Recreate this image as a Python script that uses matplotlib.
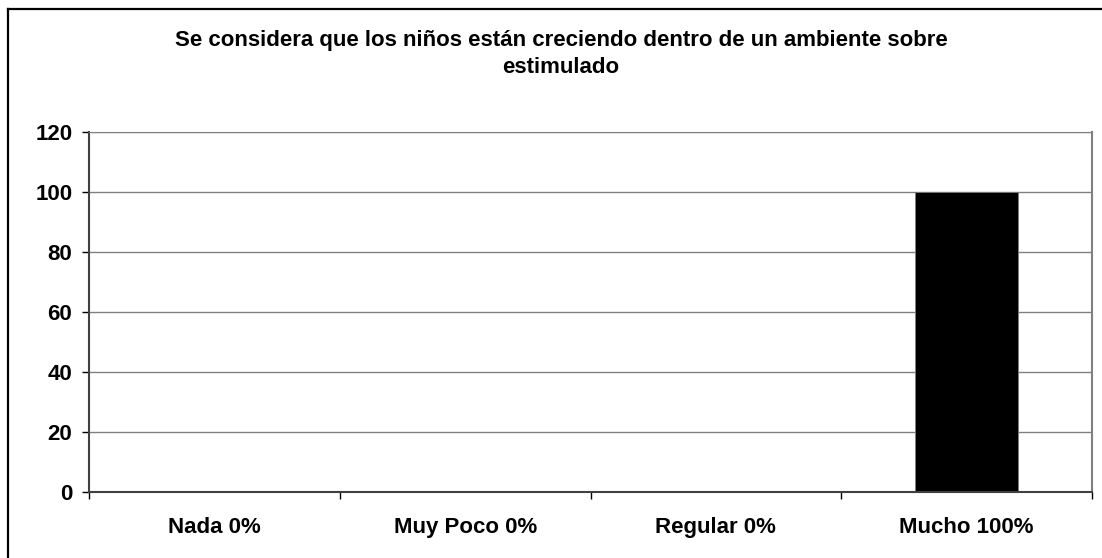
import matplotlib.pyplot as plt
from matplotlib.lines import Line2D
from matplotlib.ticker import FixedLocator

plt.rcParams['font.family'] = ['Liberation Sans', 'DejaVu Sans']
plt.rcParams['font.weight'] = 'bold'

# Survey answers and their share of responses
categories = ['Nada 0%', 'Muy Poco 0%', 'Regular 0%', 'Mucho 100%']
values = [0, 0, 0, 100]
y_ticks = [0, 20, 40, 60, 80, 100, 120]
title = 'Se considera que los niños están creciendo dentro de un ambiente sobre\nestimulado'

W, H = 1102, 558
fig = plt.figure(figsize=(W / 100, H / 100), dpi=100)

# plot area placed in pixel terms
left, right, top, bottom = 89, 1092, 132, 492
ax = fig.add_axes([left / W, (H - bottom) / H, (right - left) / W, (bottom - top) / H])

x = list(range(len(categories)))
ax.bar(x, values, width=0.41, color='black', edgecolor='#808080', linewidth=0.6, zorder=3)

ax.set_xlim(-0.5, len(categories) - 0.5)
ax.set_ylim(0, 120)
ax.set_yticks(y_ticks)
ax.yaxis.grid(True, color='#808080', linewidth=1.0, zorder=0)

# category borders as ticks, labels centred in between
ax.xaxis.set_major_locator(FixedLocator([i - 0.5 for i in range(len(categories) + 1)]))
ax.xaxis.set_minor_locator(FixedLocator(x))
ax.set_xticklabels([''] * (len(categories) + 1))
ax.set_xticklabels(categories, minor=True)
ax.tick_params(axis='x', which='major', length=5, width=1, color='black')
ax.tick_params(axis='x', which='minor', length=0, pad=18, labelsize=16)
ax.tick_params(axis='y', length=5, width=1, color='black', pad=7, labelsize=16)

ax.spines['left'].set_color('#404040')
ax.spines['left'].set_linewidth(1.5)
ax.spines['bottom'].set_color('#404040')
ax.spines['bottom'].set_linewidth(1.5)
ax.spines['bottom'].set_zorder(4)
ax.spines['top'].set_color('#808080')
ax.spines['right'].set_color('#808080')
ax.spines['right'].set_linewidth(1.5)

fig.text(561 / W, 1 - 54 / H, title, ha='center', va='center', fontsize=16,
         fontweight='bold', linespacing=1.35)

# outer chart border (top and left edges)
fig.add_artist(Line2D([8 / W, 1.0], [1 - 9 / H, 1 - 9 / H], color='black', linewidth=1.6))
fig.add_artist(Line2D([8 / W, 8 / W], [0.0, 1 - 9 / H], color='black', linewidth=1.6))

fig.savefig('out.png', dpi=100)
